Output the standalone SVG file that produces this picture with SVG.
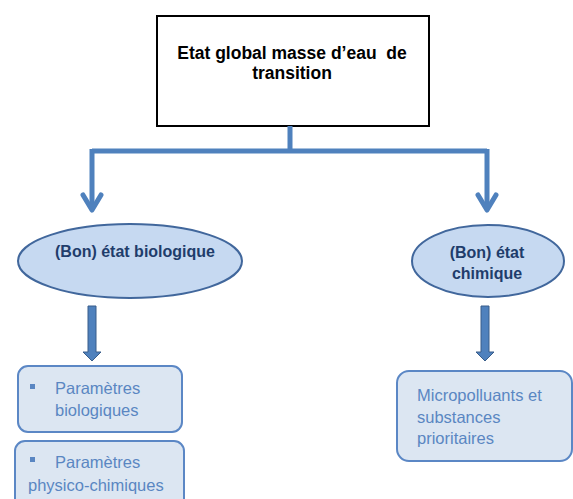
<svg xmlns="http://www.w3.org/2000/svg" width="573" height="499" viewBox="0 0 573 499">
<style>
.title{font-family:"Liberation Sans",Arial,sans-serif;font-weight:bold;font-size:17.5px;fill:#000;text-anchor:middle;white-space:pre}
.ell{fill:#c6d9f1;stroke:#41679c;stroke-width:2}
.etxt{font-family:"Liberation Sans",Arial,sans-serif;font-weight:bold;font-size:16px;fill:#1f3d6b;text-anchor:middle}
.box{fill:#dce6f2;stroke:#5b87c5;stroke-width:2}
.btxt{font-family:"Liberation Sans",Arial,sans-serif;font-size:16.5px;fill:#5a86c2}
.conn{fill:none;stroke:#4f81bd;stroke-width:5}
.blk{fill:#4f81bd;stroke:#385d8a;stroke-width:1}
</style>
<rect width="573" height="499" fill="#fff"/>
<g id="top">
<rect x="157" y="16" width="272" height="110" fill="#fff" stroke="#000" stroke-width="2"/>
<text class="title" x="292" y="59" xml:space="preserve">Etat global masse d’eau  de</text>
<text class="title" x="292" y="79">transition</text>
</g>
<g id="connectors">
<path class="conn" d="M290 126 V151 M92 151 H487 M92 149 V210 M487 149 V210"/>
<path class="conn" d="M83 195 L92 210 L101 195 M478 195 L487 210 L496 195" stroke-linecap="round" stroke-linejoin="round"/>
<path class="blk" d="M88 306 H96 V352 H101 L92 361 L83 352 H88 Z"/>
<path class="blk" d="M481 306 H489 V352 H494 L485 361 L476 352 H481 Z"/>
</g>
<g id="bio">
<ellipse class="ell" cx="130" cy="261" rx="112" ry="37"/>
<text class="etxt" x="135" y="257">(Bon) état biologique</text>
</g>
<g id="chim">
<ellipse class="ell" cx="488" cy="261" rx="76" ry="36"/>
<text class="etxt" x="487" y="258">(Bon) état</text>
<text class="etxt" x="487" y="279">chimique</text>
</g>
<g id="parbio">
<rect class="box" x="18" y="366" width="164" height="66" rx="10"/>
<rect x="30" y="384" width="5" height="5" fill="#5a86c2"/>
<text class="btxt" x="55" y="394">Paramètres</text>
<text class="btxt" x="55" y="416">biologiques</text>
</g>
<g id="parphys">
<rect class="box" x="15" y="441" width="169" height="70" rx="10"/>
<rect x="30" y="457" width="5" height="5" fill="#5a86c2"/>
<text class="btxt" x="55" y="468">Paramètres</text>
<text class="btxt" x="28" y="491">physico-chimiques</text>
</g>
<g id="micro">
<rect class="box" x="397" y="371" width="175" height="90" rx="12"/>
<text class="btxt" x="417" y="401">Micropolluants et</text>
<text class="btxt" x="417" y="423">substances</text>
<text class="btxt" x="417" y="444">prioritaires</text>
</g>
</svg>
